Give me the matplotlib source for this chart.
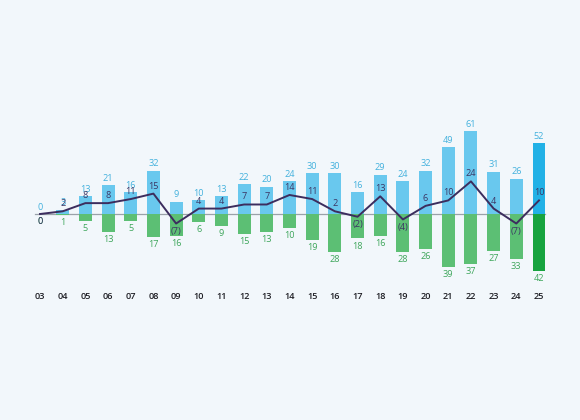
import matplotlib
matplotlib.use("Agg")
import matplotlib.pyplot as plt

years = ["03", "04", "05", "06", "07", "08", "09", "10", "11", "12", "13", "14",
         "15", "16", "17", "18", "19", "20", "21", "22", "23", "24", "25"]
top_vals = [0, 3, 13, 21, 16, 32, 9, 10, 13, 22, 20, 24, 30, 30, 16, 29, 24, 32, 49, 61, 31, 26, 52]
bottom_vals = [0, 1, 5, 13, 5, 17, 16, 6, 9, 15, 13, 10, 19, 28, 18, 16, 28, 26, 39, 37, 27, 33, 42]
net_vals = [0, 2, 8, 8, 11, 15, -7, 4, 4, 7, 7, 14, 11, 2, -2, 13, -4, 6, 10, 24, 4, -7, 10]

plt.rcParams['font.family'] = ['Open Sans', 'DejaVu Sans']

BG = "#f2f7fb"
BLUE = "#69c8ee"
GREEN = "#5cbf74"
BLUE_D = "#22b1e6"
GREEN_D = "#17a33f"
TOP_TXT = "#43b1dd"
BOT_TXT = "#3ea65b"
LINE_C = "#3c2d5e"
LINE_TXT = "#3b3564"

fig = plt.figure(figsize=(5.8, 4.2), dpi=100)
fig.patch.set_facecolor(BG)
ax = fig.add_axes([0, 0, 1, 1])
ax.set_facecolor(BG)
ax.axis("off")

n = len(years)
x = list(range(n))
ax.set_xlim(-1.764, 23.808)
ax.set_ylim(-151.5, 157.4)

w = 0.57
tcols = [BLUE] * (n - 1) + [BLUE_D]
bcols = [GREEN] * (n - 1) + [GREEN_D]
ax.bar(x, top_vals, width=w, color=tcols, zorder=2)
ax.bar(x, [-v for v in bottom_vals], width=w, color=bcols, zorder=2)
ax.plot([-0.22, n - 1 + 0.25], [0, 0], color="#9aa1a9", lw=0.9, zorder=1)
ax.plot(x, net_vals, color=LINE_C, lw=1.4, zorder=3)

fs = 6.6
for i in range(n):
    ax.annotate(str(top_vals[i]), (x[i], top_vals[i]), xytext=(0, 1.8),
                textcoords="offset points", ha="center", va="bottom",
                fontsize=fs, color=TOP_TXT, zorder=4)
    ax.annotate(str(bottom_vals[i]), (x[i], -bottom_vals[i]), xytext=(0, -2.2),
                textcoords="offset points", ha="center", va="top",
                fontsize=fs, color=BOT_TXT, zorder=4)
    v = net_vals[i]
    if v > 0:
        ax.annotate(str(v), (x[i], v), xytext=(0, 2.2), textcoords="offset points",
                    ha="center", va="bottom", fontsize=fs, color=LINE_TXT, zorder=5)
    else:
        lab = "0" if v == 0 else "(%d)" % (-v)
        ax.annotate(lab, (x[i], v), xytext=(0, -2.2), textcoords="offset points",
                    ha="center", va="top", fontsize=fs, color=LINE_TXT, zorder=5)
    ax.text(x[i], -61, years[i], ha="center", va="center", fontsize=fs,
            color="#1e1e24", fontweight="semibold")

fig.savefig("out.png", dpi=100, facecolor=BG)
